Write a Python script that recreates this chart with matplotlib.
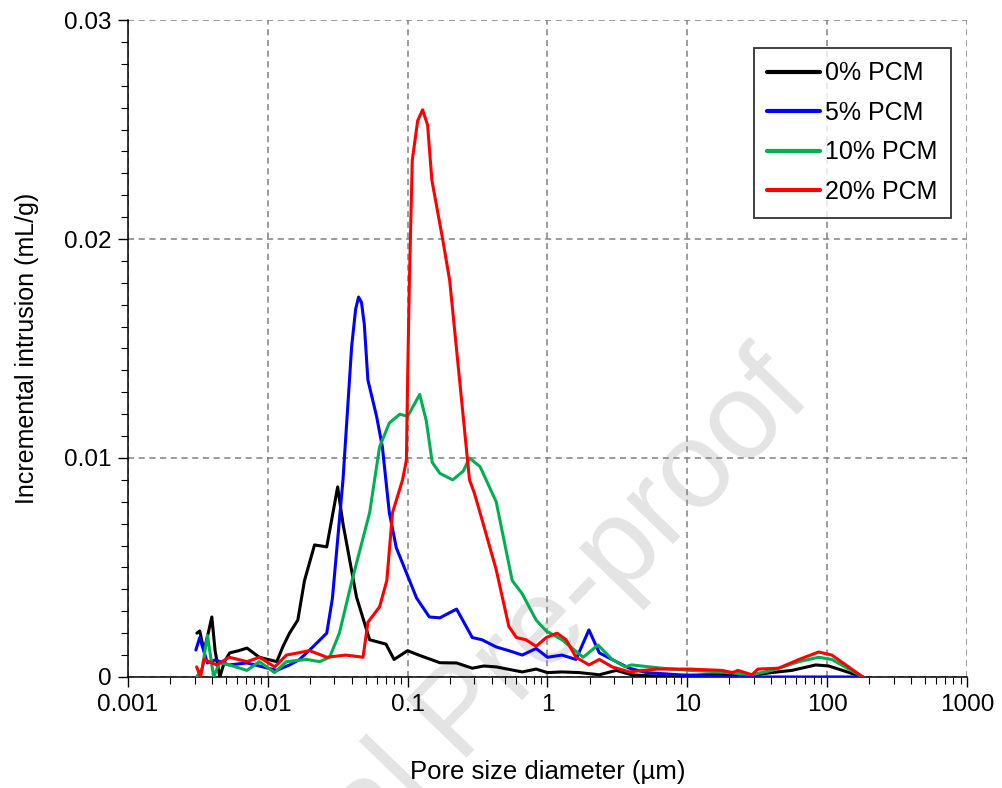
import matplotlib.pyplot as plt
from matplotlib.ticker import LogLocator, NullFormatter, FixedLocator, MultipleLocator

plt.rcParams['font.family'] = ['Liberation Sans', 'DejaVu Sans']

# pore size diameter (um) and incremental intrusion (mL/g)
x_0 = [0.00311, 0.00326, 0.0035, 0.00375, 0.00398, 0.0042, 0.00454, 0.0049, 0.00534, 0.0062, 0.0071,
       0.0087, 0.0116, 0.0128, 0.0143, 0.0164, 0.0183, 0.0216, 0.0264, 0.0316, 0.0345, 0.0431,
       0.0535, 0.07, 0.080, 0.1, 0.12, 0.17, 0.224, 0.29, 0.35, 0.43, 0.66, 0.83, 1.0, 1.27,
       1.69, 2.35, 3.1, 4.0, 5.5, 8.0, 13.5, 31, 40, 56, 83, 103, 180]
y_0 = [0.0020, 0.0021, 0.0012, 0.0020, 0.00274, 0.0012, 0.0, 0.0007, 0.0011, 0.0012, 0.00132,
       0.0009, 0.0007, 0.00137, 0.002, 0.0026, 0.0044, 0.00603, 0.00594, 0.00868, 0.0070, 0.00365,
       0.0017, 0.0015, 0.0008, 0.0012, 0.0010, 0.00065, 0.00064, 0.0004, 0.0005, 0.00046, 0.00023, 0.00036,
       0.0002, 0.00023, 0.0002, 0.0001, 0.0003, 0.0001, 0.00005, 0.00005, 0.0001, 0.0001, 0.0002,
       0.0003, 0.00055, 0.0005, 0.0]

x_5 = [0.00306, 0.00326, 0.0037, 0.0042, 0.0053, 0.0071, 0.0092, 0.0116, 0.0143, 0.0169, 0.021,
       0.0264, 0.029, 0.0345, 0.0398, 0.0425, 0.0446, 0.0468, 0.049, 0.052, 0.06, 0.066, 0.074,
       0.083, 0.116, 0.143, 0.17, 0.224, 0.29, 0.34, 0.43, 0.53, 0.66, 0.83, 1.0, 1.27, 1.6, 1.98,
       2.35, 3.1, 3.85, 5.1, 8.7, 20, 60, 180]
y_5 = [0.00123, 0.0018, 0.00064, 0.00078, 0.00055, 0.00064, 0.00046, 0.0003, 0.00055, 0.0008, 0.00137,
       0.002, 0.0036, 0.009, 0.0151, 0.0168, 0.01735, 0.0171, 0.0161, 0.01356, 0.0119, 0.0105, 0.0075,
       0.0059, 0.0036, 0.00274, 0.0027, 0.0031, 0.0018, 0.0017, 0.00137, 0.0012, 0.001, 0.0013, 0.0009,
       0.001, 0.0008, 0.00215, 0.0011, 0.0007, 0.0004, 0.0002, 0.0001, 0.0, 0.0, 0.0]

x_10 = [0.0031, 0.0034, 0.0037, 0.0041, 0.0045, 0.0053, 0.0071, 0.0087, 0.0112, 0.0136, 0.019,
        0.0235, 0.0277, 0.0325, 0.040, 0.0535, 0.063, 0.074, 0.088, 0.1, 0.122, 0.136, 0.15,
        0.17, 0.21, 0.25, 0.277, 0.33, 0.43, 0.56, 0.66, 0.83, 0.98, 1.27, 1.8, 2.3, 2.9, 3.6,
        4.0, 6.6, 10.4, 17.7, 29, 40, 63, 87, 108, 180]
y_10 = [0.0, 0.0004, 0.0019, 0.0, 0.00064, 0.00055, 0.0003, 0.0007, 0.0002, 0.0007, 0.0008,
        0.0007, 0.0009, 0.002, 0.0044, 0.0075, 0.0105, 0.0116, 0.012, 0.0119, 0.0129, 0.0117, 0.0098,
        0.0093, 0.009, 0.0094, 0.01, 0.0096, 0.008, 0.0044, 0.0038, 0.0026, 0.0021, 0.0017, 0.0009,
        0.00146, 0.0008, 0.00046, 0.00055, 0.0004, 0.0003, 0.00023, 0.0001, 0.0003, 0.0007, 0.0009,
        0.0008, 0.0]

x_20 = [0.0031, 0.0033, 0.0035, 0.0043, 0.0053, 0.0071, 0.0087, 0.0112, 0.0136, 0.0199, 0.0264,
        0.036, 0.048, 0.052, 0.063, 0.071, 0.078, 0.092, 0.098, 0.1, 0.103, 0.108, 0.118, 0.128,
        0.139, 0.149, 0.178, 0.2, 0.235, 0.277, 0.3, 0.34, 0.43, 0.53, 0.6, 0.7, 0.83, 0.98,
        1.17, 1.36, 1.6, 1.98, 2.35, 2.9, 3.85, 6.0, 10.4, 17.7, 21, 23, 29, 32, 45, 63, 87,
        108, 180]
y_20 = [0.00046, 0.0, 0.0008, 0.00055, 0.0009, 0.0007, 0.0009, 0.00046, 0.001, 0.0012, 0.0009,
        0.001, 0.0009, 0.0025, 0.0032, 0.0044, 0.0075, 0.009, 0.0099, 0.0136, 0.0181, 0.0236, 0.0254,
        0.0259, 0.0252, 0.0227, 0.020, 0.0181, 0.0136, 0.009, 0.0084, 0.0072, 0.0049, 0.0023, 0.0018,
        0.0017, 0.0014, 0.0018, 0.002, 0.0017, 0.0009, 0.00055, 0.0008, 0.00046, 0.00023, 0.00036,
        0.00036, 0.0003, 0.0002, 0.0003, 0.0001, 0.00036, 0.0004, 0.0008, 0.00114, 0.001, 0.0]

series = [("0% PCM", x_0, y_0, "black"),
          ("5% PCM", x_5, y_5, "#0000ff"),
          ("10% PCM", x_10, y_10, "#00b050"),
          ("20% PCM", x_20, y_20, "#ff0000")]

x_ticks = [0.001, 0.01, 0.1, 1, 10, 100, 1000]
x_ticklabels = ["0.001", "0.01", "0.1", "1", "10", "100", "1000"]
y_ticks = [0, 0.01, 0.02, 0.03]
y_ticklabels = ["0", "0.01", "0.02", "0.03"]

fig = plt.figure(figsize=(10.02, 7.88), dpi=100)
ax = fig.add_axes([0.1277, 0.1409, 0.8373, 0.8337])

for label, xs, ys, col in series:
    ax.plot(xs, ys, color=col, lw=2.2, label=label, solid_joinstyle='round',
            solid_capstyle='round', zorder=3)

ax.set_xscale('log')
ax.set_xlim(0.001, 1000)
ax.set_ylim(0, 0.03)
ax.xaxis.set_major_locator(FixedLocator(x_ticks))
ax.set_xticklabels(x_ticklabels)
ax.xaxis.set_minor_locator(LogLocator(base=10, subs=range(2, 10), numticks=20))
ax.xaxis.set_minor_formatter(NullFormatter())
ax.yaxis.set_major_locator(FixedLocator(y_ticks))
ax.set_yticklabels(y_ticklabels)
ax.yaxis.set_minor_locator(MultipleLocator(0.001))

ax.grid(True, which='major', color='#808080', ls=(0, (4, 3)), lw=1.1)
ax.spines['top'].set_visible(False)
ax.spines['right'].set_visible(False)
for s in ['left', 'bottom']:
    ax.spines[s].set_linewidth(1.1)
ax.tick_params(which='major', direction='out', length=7, width=1, labelsize=17.5, pad=5)
ax.tick_params(which='minor', direction='out', length=5, width=0.8)

ax.set_xlabel("Pore size diameter (µm)", fontsize=18.5, labelpad=32)
ax.set_ylabel("Incremental intrusion (mL/g)", fontsize=18, labelpad=18)

leg = ax.legend(loc='upper right', bbox_to_anchor=(0.981, 0.958), fontsize=18, frameon=True,
                fancybox=False, edgecolor='black', handlelength=2.1, handletextpad=0.2,
                labelspacing=0.62, borderpad=0.55, borderaxespad=0)
leg.get_frame().set_linewidth(1.3)
for h in leg.get_lines():
    h.set_linewidth(3)

# faint journal watermark
ax.text(0.462, 0.092, "Journal Pre-proof", transform=fig.transFigure, rotation=46,
        fontsize=88, color='#e4e4e4', ha='center', va='center', zorder=0, clip_on=False)

fig.savefig("out.png", dpi=100)
